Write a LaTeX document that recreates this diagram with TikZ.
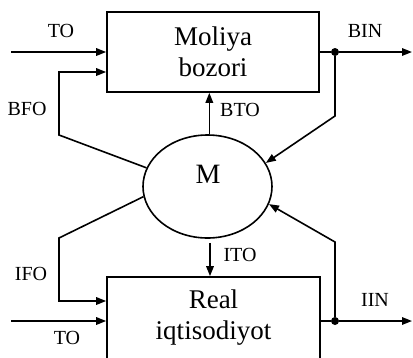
\documentclass[tikz,border=0pt]{standalone}
\usepackage{fontspec}
\setmainfont{Liberation Serif}
\usetikzlibrary{arrows.meta,shapes.geometric,calc}
\begin{document}
\begin{tikzpicture}[x=1pt,y=-1pt,
  line/.style={line width=1.6pt},
  arr/.style={line width=1.6pt,-{Triangle[length=10pt,width=7.5pt]}},
  box/.style={draw,line width=1.6pt,minimum width=212pt,minimum height=80pt,inner sep=0pt,align=center,font=\fontsize{27}{31}\selectfont},
  lbl/.style={font=\fontsize{20}{22}\selectfont,inner sep=0pt},
  dot/.style={circle,fill,inner sep=0pt,minimum size=8pt}]
\useasboundingbox (0,0) rectangle (413,357);
\clip (0,0) rectangle (413,357);
% blocks
\node[box] (mb) at (213,52) {Moliya\\bozori};
\node[box,minimum height=82pt,minimum width=213pt] (ri) at (213.5,318) {Real\\iqtisodiyot};
\node[draw,ellipse,line width=1.6pt,minimum width=129pt,minimum height=103pt,inner sep=0pt] (M) at (207.5,186.5) {};
\node[font=\fontsize{28}{30}\selectfont,inner sep=0pt] (Mt) at (208,174) {M};
% junction dots
\node[dot] (d1) at (335,52) {};
\node[dot] (d2) at (335,321) {};
% free ends
\coordinate (toa) at (11,52);
\coordinate (tob) at (11,321);
\coordinate (bina) at (412,52);
\coordinate (iina) at (412,321);
\coordinate (bfo1) at (59,135);
\coordinate (bfo2) at (59,72);
\coordinate (ifo1) at (59,238);
\coordinate (ifo2) at (59,301);
\coordinate (bin1) at (335,116);
\coordinate (iin1) at (335,242);
\coordinate (ito) at ($(M.south)+(2.5,4)$);
% connectors
\draw[arr] (toa) -- (toa -| mb.west);
\draw[arr] (M.163.5) -- (bfo1) -- (bfo2) -- (bfo2 -| mb.west);
\draw[arr] (M.88) -- (M.88 |- mb.south);
\draw[line] (d1 -| mb.east) -- (d1);
\draw[arr] (d1) -- (bina);
\draw[arr] (d1) -- (bin1) -- (M.22);
\draw[arr] (tob) -- (tob -| ri.west);
\draw[arr] (M.189) -- (ifo1) -- (ifo2) -- (ifo2 -| ri.west);
\draw[arr] (ito) -- (ito |- ri.north);
\draw[line] (d2 -| ri.east) -- (d2);
\draw[arr] (d2) -- (iina);
\draw[arr] (d2) -- (iin1) -- (M.-16);
% labels
\node[lbl] (lto1) at (61,31) {TO};
\node[lbl] (lbin) at (365,31) {BIN};
\node[lbl] (lbfo) at (27,109) {BFO};
\node[lbl] (lbto) at (240,110) {BTO};
\node[lbl] (lito) at (240,255) {ITO};
\node[lbl] (lifo) at (31,274) {IFO};
\node[lbl] (liin) at (375,300) {IIN};
\node[lbl] (lto2) at (67,338) {TO};
\end{tikzpicture}
\end{document}
